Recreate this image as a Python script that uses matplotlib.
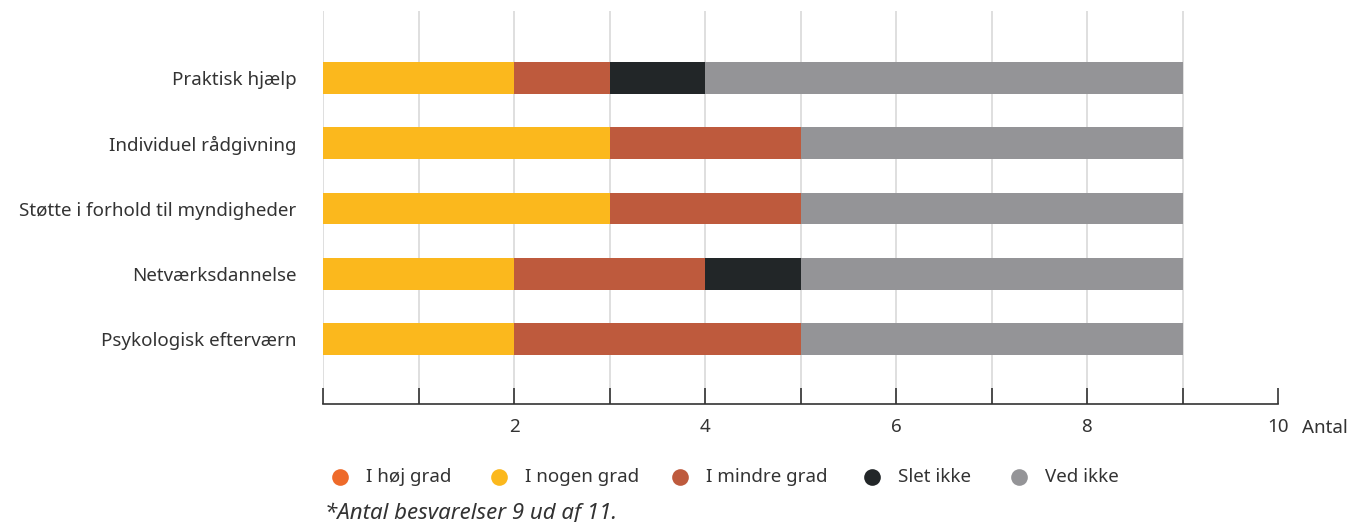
import matplotlib
matplotlib.use("Agg")
import matplotlib.pyplot as plt
from matplotlib.transforms import blended_transform_factory
import numpy as np

categories = ["Praktisk hjælp", "Individuel rådgivning", "Støtte i forhold til myndigheder",
              "Netværksdannelse", "Psykologisk efterværn"]
series_names = ["I høj grad", "I nogen grad", "I mindre grad", "Slet ikke", "Ved ikke"]
hoej_grad = [0, 0, 0, 0, 0]
nogen_grad = [2, 3, 3, 2, 2]
mindre_grad = [1, 2, 2, 2, 3]
slet_ikke = [1, 0, 0, 1, 0]
ved_ikke = [5, 4, 4, 4, 4]
colors = ["#EE6A2A", "#FBB81D", "#BE5A3D", "#222628", "#949497"]
xticks_major = [2, 4, 6, 8, 10]

plt.rcParams['font.family'] = ['Noto Sans', 'DejaVu Sans']
text_color = "#333333"
fs = 13.5

fig = plt.figure(figsize=(13.54, 5.22), dpi=100)
ax = fig.add_axes([323/1354, 1-404/522, (1278-323)/1354, 393/522])

n = len(categories)
ypos = np.arange(n)[::-1]  # first category on top
left = np.zeros(n)
for name, vals, c in zip(series_names, [hoej_grad, nogen_grad, mindre_grad, slet_ikke, ved_ikke], colors):
    vals = np.array(vals, dtype=float)
    ax.barh(ypos, vals, left=left, height=0.49, color=c, label=name, zorder=3)
    left += vals

ax.set_xlim(0, 10)
ax.set_ylim(-1, 4 + 67/65)

for x in range(0, 10):
    ax.axvline(x, color="#d9d9d9", lw=1.2, zorder=1)

ax.set_xticks(xticks_major)
ax.set_xticks(range(0, 11), minor=True)
ax.tick_params(axis='x', which='both', direction='in', length=11.5, width=1.2,
               color="#333333", labelsize=fs, labelcolor=text_color, pad=10)
ax.set_xticklabels([str(v) for v in xticks_major])

ax.set_yticks(ypos)
ax.set_yticklabels(categories)
ax.tick_params(axis='y', length=0, labelsize=fs, labelcolor=text_color, pad=19)

for s in ["top", "right", "left"]:
    ax.spines[s].set_visible(False)
ax.spines["bottom"].set_color("#333333")
ax.spines["bottom"].set_linewidth(1.2)

trans = blended_transform_factory(ax.transData, fig.transFigure)
ax.text(10.25, 1-428/522, "Antal", transform=trans, ha="left", va="center",
        fontsize=fs, color=text_color)

# legend placed manually
leg_x = [340, 499, 680, 872, 1019]
leg_y = 1 - 477/522
for xpx, name, c in zip(leg_x, series_names, colors):
    fig.lines.append(plt.Line2D([xpx/1354], [leg_y], marker='o', markersize=12,
                                markerfacecolor=c, markeredgecolor='none',
                                linestyle='none', transform=fig.transFigure))
    fig.text((xpx + 26)/1354, leg_y, name, fontsize=fs, color=text_color,
             ha='left', va='center')

fig.text(325/1354, 1-513/522, "*Antal besvarelser 9 ud af 11.", fontsize=16,
         style='italic', color=text_color, ha='left', va='center')

fig.savefig("out.png", dpi=100)
